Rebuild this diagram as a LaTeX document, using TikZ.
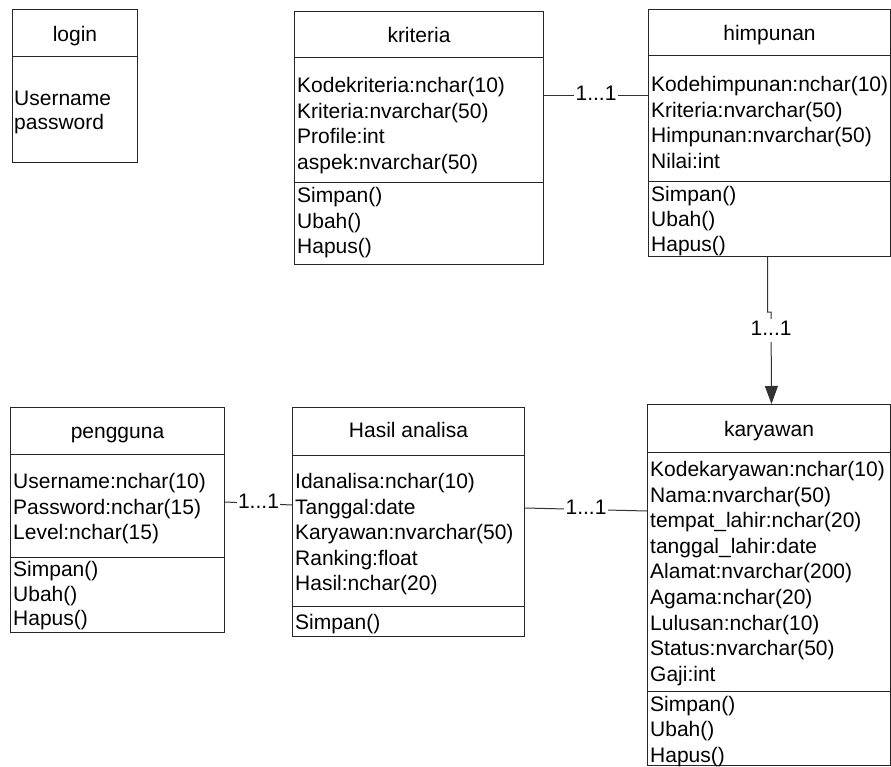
\documentclass[tikz,border=0pt]{standalone}
\usepackage{fontspec}
\setmainfont{Liberation Sans}
\usetikzlibrary{arrows.meta, positioning}

\begin{document}
\begin{tikzpicture}[
    x=1pt, y=-1pt,
    % Define class box styles
    classbox/.style={
        rectangle,
        draw=black!85,
        line width=1pt,
        anchor=north west,
        inner sep=0pt
    },
    classname/.style={
        inner sep=0pt,
        text height=15pt,
        text depth=0pt,
        font=\fontsize{21}{25.6}\selectfont
    },
    member/.style={
        anchor=west,
        inner sep=0pt,
        text height=15pt,
        text depth=0pt,
        font=\fontsize{21}{25.6}\selectfont
    },
    divider/.style={draw=black!85, line width=1pt},
    assoc/.style={draw=black!80, line width=1pt},
    mult/.style={
        fill=white,
        inner sep=1.5pt,
        text height=15pt,
        text depth=5pt,
        font=\fontsize{21}{25.6}\selectfont
    }
]
    \useasboundingbox (0,0) rectangle (891,767);

    % =================================================================
    % --- TOP ROW: login, kriteria, himpunan ---
    % =================================================================
    \node[classbox, minimum width=125, minimum height=153] (login) at (12,9) {};
    \draw[divider] ([yshift=-48]login.north west) -- ([yshift=-48]login.north east);
    \node[classname] (login-name) at ([yshift=-25]login.north) {login};
    \foreach \t [count=\i] in {Username, password} {
        \node[member] (login-attr-\i) at (14,{98+24*(\i-1)}) {\t};
    }

    \node[classbox, minimum width=249, minimum height=253] (kriteria) at (294,11) {};
    \draw[divider] ([yshift=-47]kriteria.north west) -- ([yshift=-47]kriteria.north east);
    \draw[divider] ([yshift=-172]kriteria.north west) -- ([yshift=-172]kriteria.north east);
    \node[classname] (kriteria-name) at ([yshift=-24]kriteria.north) {kriteria};
    \foreach \t [count=\i] in {Kodekriteria:nchar(10), Kriteria:nvarchar(50), Profile:int, aspek:nvarchar(50)} {
        \node[member] (kriteria-attr-\i) at (297,{85+25.6*(\i-1)}) {\t};
    }
    \foreach \t [count=\i] in {Simpan(), Ubah(), Hapus()} {
        \node[member] (kriteria-op-\i) at (297,{195+25.6*(\i-1)}) {\t};
    }

    \node[classbox, minimum width=242, minimum height=247] (himpunan) at (648,9) {};
    \draw[divider] ([yshift=-47]himpunan.north west) -- ([yshift=-47]himpunan.north east);
    \draw[divider] ([yshift=-173]himpunan.north west) -- ([yshift=-173]himpunan.north east);
    \node[classname] (himpunan-name) at ([yshift=-24]himpunan.north) {himpunan};
    \foreach \t [count=\i] in {Kodehimpunan:nchar(10), Kriteria:nvarchar(50), Himpunan:nvarchar(50), Nilai:int} {
        \node[member] (himpunan-attr-\i) at (651,{84+25.6*(\i-1)}) {\t};
    }
    \foreach \t [count=\i] in {Simpan(), Ubah(), Hapus()} {
        \node[member] (himpunan-op-\i) at (651,{194+25*(\i-1)}) {\t};
    }

    % =================================================================
    % --- BOTTOM ROW: pengguna, Hasil analisa, karyawan ---
    % =================================================================
    \node[classbox, minimum width=214, minimum height=225] (pengguna) at (10,407) {};
    \draw[divider] ([yshift=-47]pengguna.north west) -- ([yshift=-47]pengguna.north east);
    \draw[divider] ([yshift=-150]pengguna.north west) -- ([yshift=-150]pengguna.north east);
    \node[classname] (pengguna-name) at ([yshift=-24]pengguna.north) {pengguna};
    \foreach \t [count=\i] in {Username:nchar(10), Password:nchar(15), Level:nchar(15)} {
        \node[member] (pengguna-attr-\i) at (13,{481+25.6*(\i-1)}) {\t};
    }
    \foreach \t [count=\i] in {Simpan(), Ubah(), Hapus()} {
        \node[member] (pengguna-op-\i) at (13,{569+24.5*(\i-1)}) {\t};
    }

    \node[classbox, minimum width=232, minimum height=229] (hasil) at (292,407) {};
    \draw[divider] ([yshift=-48]hasil.north west) -- ([yshift=-48]hasil.north east);
    \draw[divider] ([yshift=-199]hasil.north west) -- ([yshift=-199]hasil.north east);
    \node[classname] (hasil-name) at ([yshift=-23]hasil.north) {Hasil analisa};
    \foreach \t [count=\i] in {Idanalisa:nchar(10), Tanggal:date, Karyawan:nvarchar(50), Ranking:float, Hasil:nchar(20)} {
        \node[member] (hasil-attr-\i) at (295,{481+25.6*(\i-1)}) {\t};
    }
    \node[member] (hasil-op-1) at (295,622) {Simpan()};

    \node[classbox, minimum width=243, minimum height=361] (karyawan) at (647,404) {};
    \draw[divider] ([yshift=-48]karyawan.north west) -- ([yshift=-48]karyawan.north east);
    \draw[divider] ([yshift=-287]karyawan.north west) -- ([yshift=-287]karyawan.north east);
    \node[classname] (karyawan-name) at ([yshift=-25]karyawan.north) {karyawan};
    \foreach \t [count=\i] in {Kodekaryawan:nchar(10), Nama:nvarchar(50), tempat\_lahir:nchar(20), tanggal\_lahir:date, Alamat:nvarchar(200), Agama:nchar(20), Lulusan:nchar(10), Status:nvarchar(50), Gaji:int} {
        \node[member] (karyawan-attr-\i) at (650,{469+25.6*(\i-1)}) {\t};
    }
    \foreach \t [count=\i] in {Simpan(), Ubah(), Hapus()} {
        \node[member] (karyawan-op-\i) at (650,{704+25.4*(\i-1)}) {\t};
    }

    % =================================================================
    % --- Associations ---
    % =================================================================
    \coordinate (kh-a) at ([yshift=-85]kriteria.north east);
    \coordinate (kh-b) at ([yshift=-87]himpunan.north west);
    \draw[assoc] (kh-a) -- node[mult] (kh-label) {1...1} (kh-b);

    \coordinate (ph-a) at ([yshift=-95]pengguna.north east);
    \coordinate (ph-b) at ([yshift=-98]hasil.north west);
    \draw[assoc] (ph-a) -- node[mult] (ph-label) {1...1} (ph-b);

    \coordinate (hk-a) at ([yshift=-101]hasil.north east);
    \coordinate (hk-b) at ([yshift=-107]karyawan.north west);
    \draw[assoc] (hk-a) -- node[mult] (hk-label) {1...1} (hk-b);

    % himpunan down to karyawan, with the small jog
    \coordinate (hy-a) at ([xshift=-2]himpunan.south);
    \coordinate (hy-jog) at (771,312);
    \coordinate (hy-b) at ([xshift=2.5]karyawan.north);
    \draw[assoc, -{Triangle[length=18pt, width=13pt]}] (hy-a) |- (hy-jog) -- node[mult, pos=0.2] (hy-label) {1...1} (hy-b);
\end{tikzpicture}
\end{document}
